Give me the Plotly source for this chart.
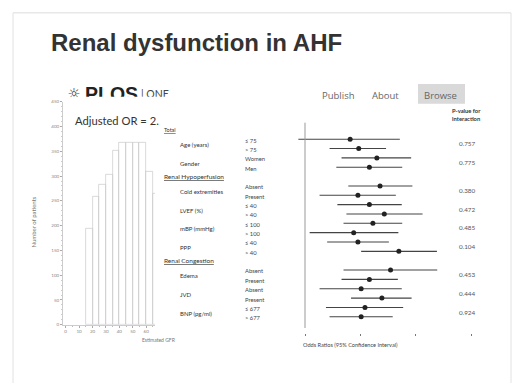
import plotly.graph_objects as go

W, H = 516, 386

# ---------------- data ----------------
# histogram of estimated GFR (5-unit bins, left edges)
gfr_bin_left = [15, 20, 25, 30, 35, 40, 45, 50, 55, 60, 65]
gfr_counts = [193, 259, 283, 303, 352, 367, 367, 367, 367, 309, 264]
gfr_ticks = [0, 10, 20, 30, 40, 50, 60]
count_ticks = [0, 50, 100, 150, 200, 250, 300, 350, 400, 450]

# forest plot
sections = ["Total", "Renal Hypoperfusion", "Renal Congestion"]
section_groups = [[0, 1], [2, 3, 4, 5], [6, 7, 8]]
groups = ["Age (years)", "Gender", "Cold extremities", "LVEF (%)", "mBP (mmHg)",
          "PPP", "Edema", "JVD", "BNP (pg/ml)"]
subgroups = [["≤ 75", "> 75"], ["Women", "Men"], ["Absent", "Present"],
             ["≤ 40", "> 40"], ["≤ 100", "> 100"], ["≤ 40", "> 40"],
             ["Absent", "Present"], ["Absent", "Present"], ["≤ 677", "> 677"]]
or_point = [0.88, 0.98, 1.23, 1.12, 1.28, 0.97, 1.12, 1.35, 1.17, 0.92, 0.97, 1.62,
            1.46, 1.12, 1.01, 1.31, 1.06, 1.01]
or_low = [0.46, 0.68, 0.79, 0.74, 0.86, 0.60, 0.75, 0.84, 0.81, 0.53, 0.66, 1.01,
          0.81, 0.79, 0.60, 0.89, 0.65, 0.68]
or_high = [1.64, 1.38, 1.89, 1.69, 1.92, 1.56, 1.68, 2.18, 1.69, 1.61, 1.43, 2.61,
           2.62, 1.60, 1.68, 1.90, 1.71, 1.50]
p_values = ["0.757", "0.775", "0.380", "0.472", "0.485", "0.104", "0.453", "0.444", "0.924"]
or_ticks = [0.5, 1, 2, 4]

nav_items = ["Publish", "About", "Browse"]

# ---------------- row layout ----------------
row = 0
section_rows = []
group_rows = []
sub_rows = []
for s, glist in zip(sections, section_groups):
    section_rows.append(row)
    for g in glist:
        rs = []
        for _ in subgroups[g]:
            row += 1
            rs.append(row)
        group_rows.append(rs)
        sub_rows.extend(rs)
    row += 1


def px(x):
    return x / W


def py(y):
    return 1 - y / H


fig = go.Figure()

# histogram
fig.add_trace(go.Bar(
    x=[b + 2.5 for b in gfr_bin_left], y=gfr_counts, width=5,
    marker=dict(color="rgba(0,0,0,0)", line=dict(color="#c8c8c8", width=0.7)),
    xaxis="x", yaxis="y", hoverinfo="skip"))

# forest CI lines
lx, ly = [], []
for lo, hi, r in zip(or_low, or_high, sub_rows):
    lx += [lo, hi, None]
    ly += [r, r, None]
fig.add_trace(go.Scatter(x=lx, y=ly, mode="lines", line=dict(color="#444", width=1.1),
                         xaxis="x2", yaxis="y2", hoverinfo="skip"))
fig.add_trace(go.Scatter(x=or_point, y=sub_rows, mode="markers",
                         marker=dict(color="#222", size=5),
                         xaxis="x2", yaxis="y2", hoverinfo="skip"))

# PLOS logo (top part visible only, clipped by its subplot)
fig.add_trace(go.Scatter(x=[74, 85, 141], y=[94, 95, 95], mode="text",
                         text=["☼", "<b>PLOS</b>", "| ONE"],
                         textposition=["middle center", "middle right", "middle right"],
                         textfont=dict(family=["DejaVu Sans", "Liberation Sans", "Lato"],
                                       size=[15, 19.5, 10.5], color=["#333", "#222", "#444"]),
                         cliponaxis=True, xaxis="x3", yaxis="y3", hoverinfo="skip"))

ann = []
# title
ann.append(dict(text="<b>Renal dysfunction in AHF</b>", x=px(49), y=py(41), xref="paper", yref="paper",
                xanchor="left", yanchor="middle", showarrow=False,
                font=dict(family="Liberation Sans", size=24, color="#333")))
ann.append(dict(text="Adjusted OR = 2.", x=px(73), y=py(120), xref="paper", yref="paper",
                xanchor="left", yanchor="middle", showarrow=False,
                font=dict(family="Lato", size=11.2, color="#333")))
# axis titles of histogram
ann.append(dict(text="Number of patients", x=px(28), y=py(223), xref="paper", yref="paper",
                textangle=-90, showarrow=False, font=dict(family="Lato", size=6, color="#777")))
ann.append(dict(text="Estimated GFR", x=px(140), y=py(347), xref="paper", yref="paper",
                showarrow=False, font=dict(family="Lato", size=5, color="#777")))

# table labels
for s, r in zip(sections, section_rows):
    ann.append(dict(text="<u>" + s + "</u>", x=px(162), y=r, xref="paper", yref="y2",
                    xanchor="left", yanchor="middle", showarrow=False,
                    font=dict(family="Lato", size=6.5 if s != "Total" else 5.5, color="#333")))
for g, rs, subs, pv in zip(groups, group_rows, subgroups, p_values):
    mid = sum(rs) / len(rs)
    ann.append(dict(text=g, x=px(178), y=mid + 0.1, xref="paper", yref="y2",
                    xanchor="left", yanchor="middle", showarrow=False,
                    font=dict(family="Lato", size=6, color="#333")))
    for sname, r in zip(subs, rs):
        ann.append(dict(text=sname, x=px(243), y=r + 0.1, xref="paper", yref="y2",
                        xanchor="left", yanchor="middle", showarrow=False,
                        font=dict(family="Lato", size=5.8, color="#444")))
    ann.append(dict(text=pv, x=px(457), y=mid, xref="paper", yref="y2",
                    xanchor="left", yanchor="middle", showarrow=False,
                    font=dict(family="Lato", size=6.3, color="#555")))

ann.append(dict(text="<b>P-value for<br>interaction</b>", x=px(466), y=py(114), xref="paper", yref="paper",
                xanchor="center", yanchor="middle", showarrow=False,
                font=dict(family="Lato", size=5.8, color="#333")))
ann.append(dict(text="Odds Ratios (95% Confidence Interval)", x=px(301), y=py(347), xref="paper", yref="paper",
                xanchor="left", yanchor="middle", showarrow=False,
                font=dict(family="Lato", size=5.6, color="#444")))

# navigation
for name, cx in zip(nav_items, [338, 385, 440]):
    ann.append(dict(text=name, x=px(cx), y=py(95), xref="paper", yref="paper",
                    xanchor="center", yanchor="middle", showarrow=False,
                    font=dict(family="Open Sans", size=9.5, color="#666")))

shapes = [
    # slide border
    dict(type="line", xref="paper", yref="paper", x0=px(13), x1=px(511), y0=py(11), y1=py(11),
         line=dict(color="#dcdcdc", width=1)),
    dict(type="line", xref="paper", yref="paper", x0=px(13), x1=px(13), y0=py(11), y1=0,
         line=dict(color="#e2e2e2", width=1)),
    dict(type="line", xref="paper", yref="paper", x0=px(511), x1=px(511), y0=py(11), y1=0,
         line=dict(color="#e2e2e2", width=1)),
    # browse box
    dict(type="rect", xref="paper", yref="paper", x0=px(418), x1=px(465), y0=py(103), y1=py(83),
         fillcolor="#d9d9d9", line=dict(width=0), layer="below"),
    # forest reference line
    dict(type="line", xref="x2", yref="y2", x0=or_ticks[0], x1=or_ticks[0], y0=-0.8, y1=21.2,
         line=dict(color="#999", width=1)),
]

fig.update_layout(
    width=W, height=H, margin=dict(l=0, r=0, t=0, b=0),
    paper_bgcolor="white", plot_bgcolor="rgba(0,0,0,0)", showlegend=False, bargap=0,
    annotations=ann, shapes=shapes,
    xaxis=dict(domain=[px(63), px(155)], range=[-2, 66.6], anchor="y",
               tickvals=gfr_ticks, ticks="outside", ticklen=2, tickcolor="#aaa",
               tickfont=dict(family="Lato", size=4.5, color="#888"),
               showline=True, linecolor="#ccc", linewidth=0.8, showgrid=False, zeroline=False,
               minor=dict(dtick=5, ticks="outside", ticklen=1.5, tickcolor="#bbb")),
    yaxis=dict(domain=[py(327), py(101)], range=[0, 450], anchor="x",
               tickvals=count_ticks, ticks="outside", ticklen=2, tickcolor="#aaa",
               tickfont=dict(family="Lato", size=4.5, color="#888"),
               showline=True, linecolor="#ccc", linewidth=0.8, showgrid=False, zeroline=False,
               minor=dict(dtick=10, ticks="outside", ticklen=1, tickcolor="#ccc")),
    xaxis2=dict(domain=[px(290), px(480)], type="log", range=[-0.3827, 0.6510], anchor="y2",
                tickvals=or_ticks, showticklabels=False, ticks="outside", ticklen=2,
                tickcolor="#777", showline=False, showgrid=False, zeroline=False),
    yaxis2=dict(domain=[py(335), py(122)], range=[21.70, -0.795], anchor="x2", visible=False),
    xaxis3=dict(domain=[px(60), px(175)], range=[60, 175], anchor="y3", visible=False),
    yaxis3=dict(domain=[py(96), py(80)], range=[96, 80], anchor="x3", visible=False),
)

fig.write_html("out.html", config={"displayModeBar": False},
               post_script="document.body.style.margin='0';document.body.style.overflow='hidden';")
